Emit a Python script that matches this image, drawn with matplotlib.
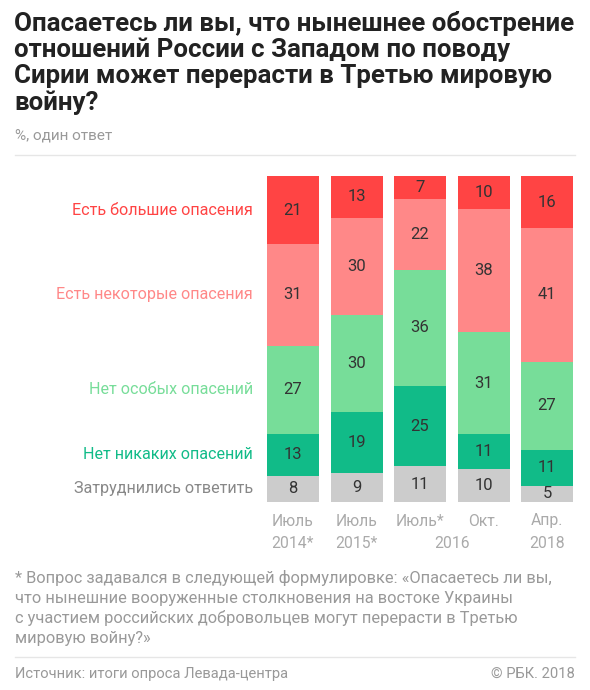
import matplotlib.pyplot as plt
import numpy as np

# data (bottom -> top)
periods = ['2014j', '2015j', '2016j', '2016o', '2018a']
tick_top = ['Июль', 'Июль', 'Июль*', 'Окт.', 'Апр.']
tick_bottom = ['2014*', '2015*', '', '', '2018']
categories = ['Затруднились ответить', 'Нет никаких опасений', 'Нет особых опасений',
              'Есть некоторые опасения', 'Есть большие опасения']
hard_to_say = [8, 9, 11, 10, 5]
no_fear = [13, 19, 25, 11, 11]
little_fear = [27, 30, 36, 31, 27]
some_fear = [31, 30, 22, 38, 41]
big_fear = [21, 13, 7, 10, 16]

colors = ['#cccccc', '#11bb88', '#77dd99', '#ff8888', '#ff4444']
label_colors = ['#888888', '#11bb88', '#77dd99', '#ff8888', '#ff4444']

plt.rcParams['font.family'] = ['Roboto', 'DejaVu Sans']

W, H = 590, 690
fig = plt.figure(figsize=(W / 100, H / 100), dpi=100)

def fx(px):
    return px / W

def fy(py):
    return 1 - py / H

# title and subtitle
title = ('Опасаетесь ли вы, что нынешнее обострение\n'
         'отношений России с Западом по поводу\n'
         'Сирии может перерасти в Третью мировую\n'
         'войну?')
fig.text(fx(14), fy(11), title, fontsize=18.6, fontweight='bold', color='#222222',
         va='top', ha='left', linespacing=1.1)
fig.text(fx(15), fy(135), '%, один ответ', fontsize=11, color='#999999', va='center')
fig.add_artist(plt.Line2D([fx(15), fx(575)], [fy(155), fy(155)], color='#e6e6e6', lw=1))

# bars
series = [hard_to_say, no_fear, little_fear, some_fear, big_fear]
data = np.array(series, dtype=float)
totals = data.sum(axis=0)
scaled = data / totals * 100

ax = fig.add_axes([fx(260), fy(502), fx(320), 326 / H])
x = np.arange(len(periods))
bottom = np.zeros(len(periods))
for i, vals in enumerate(scaled):
    ax.bar(x, vals, bottom=bottom, width=52 / 63.5, color=colors[i], linewidth=0)
    for j in range(len(periods)):
        ax.text(x[j], bottom[j] + vals[j] / 2, str(int(data[i][j])), ha='center', va='center',
                fontsize=12, color='#333333')
    # category label next to first bar
    ax.text(-0.63, bottom[0] + vals[0] / 2, categories[i], ha='right', va='center',
            fontsize=11.6, color=label_colors[i], clip_on=False)
    bottom += vals

ax.set_xlim(-33 / 63.5, 4 + 33 / 63.5)
ax.set_ylim(0, 100)
ax.axis('off')

# x labels
for j in range(len(periods)):
    ax.text(x[j], -19 / 3.26, tick_top[j], ha='center', va='center', fontsize=11.3, color='#aaaaaa')
    if tick_bottom[j]:
        ax.text(x[j], -41 / 3.26, tick_bottom[j], ha='center', va='center', fontsize=11.3, color='#aaaaaa')
ax.text(2.5, -41 / 3.26, '2016', ha='center', va='center', fontsize=11.3, color='#aaaaaa')

# footnote and source
note = ('* Вопрос задавался в следующей формулировке: «Опасаетесь ли вы,\n'
        'что нынешние вооруженные столкновения на востоке Украины\n'
        'с участием российских добровольцев могут перерасти в Третью\n'
        'мировую войну?»')
fig.text(fx(15), fy(570), note, fontsize=11.8, color='#999999', va='top', ha='left', linespacing=1.38)
fig.add_artist(plt.Line2D([fx(15), fx(575)], [fy(657), fy(657)], color='#e6e6e6', lw=1))
fig.text(fx(15), fy(674), 'Источник: итоги опроса Левада-центра', fontsize=10.6, color='#999999', va='center')
fig.text(fx(575), fy(674), '© РБК. 2018', fontsize=10.6, color='#999999', va='center', ha='right')

fig.savefig('out.png', dpi=100)
